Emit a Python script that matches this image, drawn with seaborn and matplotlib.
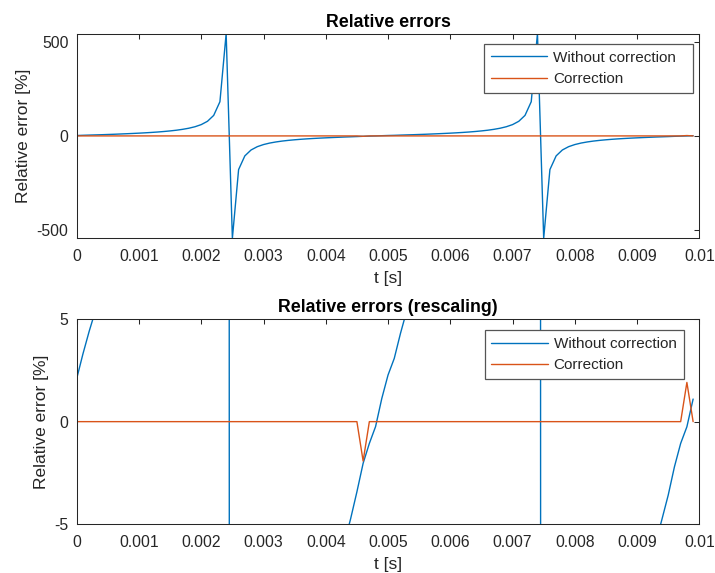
import numpy as np
import pandas as pd
import matplotlib
matplotlib.use("Agg")
import matplotlib.pyplot as plt
import seaborn as sns

sns.set_theme(style="white")
plt.rcParams['font.family'] = ['Liberation Sans', 'DejaVu Sans']

# sample times: one sample every 0.1 ms, 0 ... 0.0099 s
t = np.arange(100) * 1e-4

# relative error without correction [%]
err_raw = [
    2.1, 3.3, 4.4, 5.4, 6.4, 7.6, 8.8, 10.2, 11.6, 13.1,
    14.7, 16.5, 18.5, 20.8, 23.5, 26.6, 30.3, 35.0, 40.9, 48.9,
    60.2, 77.8, 109.2, 182.0, 545.0, -545.0, -179.1, -106.3, -74.9, -57.3,
    -46.0, -38.0, -32.1, -27.4, -23.7, -20.6, -17.9, -15.6, -13.6, -11.8,
    -10.2, -8.7, -7.3, -5.9, -4.72, -3.42, -2.03, -1.06, -0.24, 1.13,
    2.27, 3.08, 4.3, 5.4, 6.4, 7.6, 8.8, 10.2, 11.6, 13.1,
    14.7, 16.5, 18.5, 20.8, 23.5, 26.6, 30.3, 35.0, 40.9, 48.9,
    60.2, 77.8, 109.2, 182.0, 545.0, -545.0, -179.1, -106.3, -74.9, -57.3,
    -46.0, -38.0, -32.1, -27.4, -23.7, -20.6, -17.9, -15.6, -13.6, -11.8,
    -10.2, -8.7, -7.3, -5.9, -4.75, -3.58, -2.2, -1.06, -0.25, 1.1,
]

# relative error with correction [%]
err_corr = [0.0] * 100
err_corr[46] = -1.92
err_corr[98] = 1.91

xticks = [0, 0.001, 0.002, 0.003, 0.004, 0.005, 0.006, 0.007, 0.008, 0.009, 0.01]
xticklabels = ["0", "0.001", "0.002", "0.003", "0.004", "0.005",
               "0.006", "0.007", "0.008", "0.009", "0.01"]

df = pd.DataFrame({"t": t, "raw": err_raw, "corr": err_corr})

BLUE = "#0072BD"
ORANGE = "#D95319"
AXC = "#262626"

fig = plt.figure(figsize=(7.15, 5.73), dpi=100)
ax1 = fig.add_axes([0.1073, 0.5841, 0.8708, 0.3574])
ax2 = fig.add_axes([0.1073, 0.0850, 0.8708, 0.3583])


def style_axes(ax, title, yticks, ylim, leg_box):
    sns.lineplot(data=df, x="t", y="raw", ax=ax, color=BLUE, linewidth=1.0,
                 label="Without correction")
    sns.lineplot(data=df, x="t", y="corr", ax=ax, color=ORANGE, linewidth=1.0,
                 label="Correction")
    ax.set_xlim(0, 0.01)
    ax.set_ylim(*ylim)
    ax.set_xticks(xticks)
    ax.set_xticklabels(xticklabels)
    ax.set_yticks(yticks)
    ax.set_yticklabels([str(v) for v in yticks])
    ax.tick_params(direction="in", top=True, right=True, length=3.6, width=0.75,
                   color=AXC, labelcolor=AXC, labelsize=11.3)
    ax.tick_params(axis="x", pad=8)
    ax.tick_params(axis="y", pad=6)
    for sp in ax.spines.values():
        sp.set_color(AXC)
        sp.set_linewidth(0.75)
    ax.set_xlabel("t [s]", fontsize=12.5, color=AXC, labelpad=4.5)
    ax.set_ylabel("Relative error [%]", fontsize=12.5, color=AXC, labelpad=4)
    ax.set_title(title, fontsize=12.8, fontweight="bold", color="black", pad=5)
    leg = ax.legend(loc="upper right", bbox_to_anchor=leg_box, mode="expand",
                    borderaxespad=0, fontsize=11, frameon=True, fancybox=False,
                    framealpha=1, handlelength=3.7, handletextpad=0.37,
                    labelspacing=0.48, borderpad=0.42)
    leg.get_frame().set_edgecolor("#555555")
    leg.get_frame().set_linewidth(0.9)


style_axes(ax1, "Relative errors", [-500, 0, 500], (-545, 545),
           (0.6547, 0.5, 0.3347, 0.447))
style_axes(ax2, "Relative errors (rescaling)", [-5, 0, 5], (-5, 5),
           (0.6558, 0.5, 0.3203, 0.444))

fig.savefig("out.png", dpi=100)
